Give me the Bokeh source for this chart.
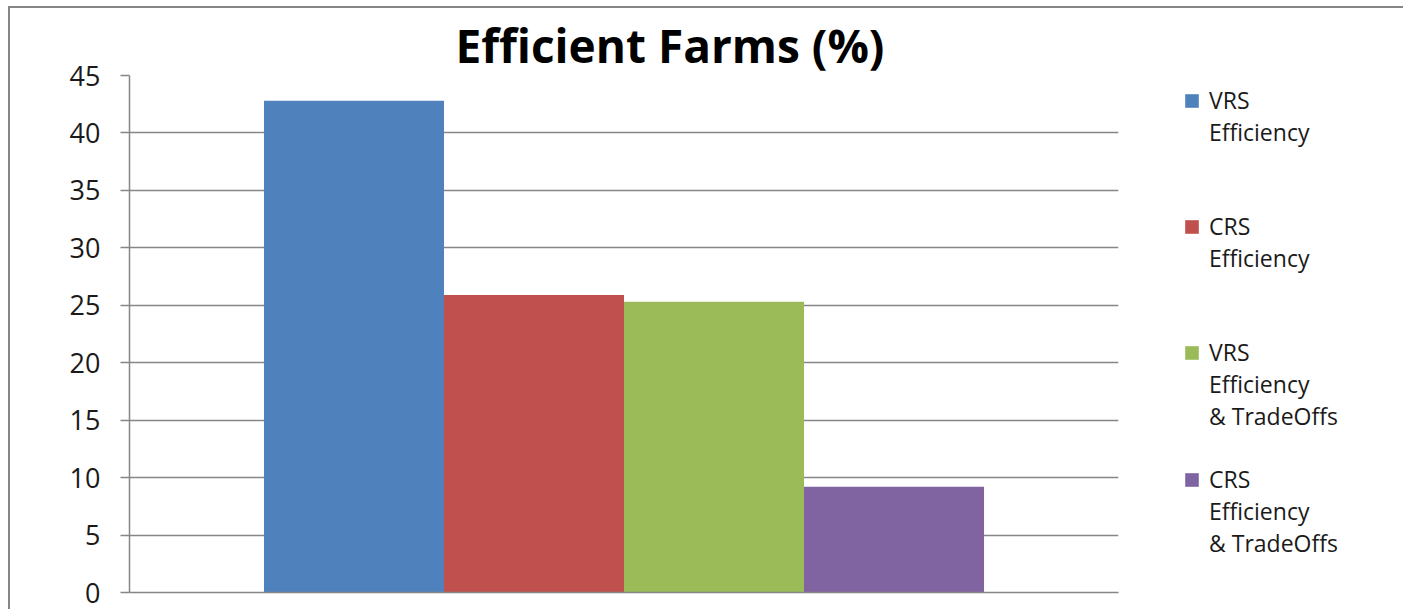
from bokeh.plotting import figure
from bokeh.models import Range1d, Legend, LegendItem, FixedTicker
from bokeh.embed import file_html
from bokeh.resources import INLINE

# ---- data ----
series = ["VRS\nEfficiency", "CRS\nEfficiency",
          "VRS\nEfficiency\n& TradeOffs", "CRS\nEfficiency\n& TradeOffs"]
values = [42.8, 25.9, 25.3, 9.2]
colors = ["#4F81BD", "#C0504D", "#9BBB59", "#8064A2"]
y_ticks = [0, 5, 10, 15, 20, 25, 30, 35, 40, 45]

GRAY = "#868686"
FONT = "Open Sans"
LINES_PER_ENTRY = 4
LINE_H = 31.3

p = figure(frame_width=989, frame_height=517, output_backend="svg", toolbar_location=None,
           x_range=Range1d(-1.247, 4.247), y_range=Range1d(0, 45),
           min_border_left=119, min_border_right=275, min_border_top=67,
           min_border_bottom=17, margin=(6, 0, 0, 8),
           title="Efficient Farms (%)")
p.styles = {"border-left": f"2px solid {GRAY}", "border-top": f"2px solid {GRAY}"}
p.outline_line_color = None

p.title.text_font = FONT
p.title.text_font_style = "bold"
p.title.text_font_size = "46px"
p.title.text_color = "#000000"
p.title.align = "left"
p.title.offset = 326
p.title.standoff = 0

renderers = []
for i, (s, v, c) in enumerate(zip(series, values, colors)):
    r = p.vbar(x=[i], top=[v], width=1.0, bottom=0, fill_color=c, line_color=None)
    renderers.append((s, r))

# invisible renderer used for the continuation lines of the legend labels
blank = p.vbar(x=[], top=[], width=1.0, bottom=0, fill_alpha=0, line_alpha=0)

p.xaxis.ticker = FixedTicker(ticks=[])
p.xaxis.major_tick_line_color = None
p.xaxis.minor_tick_line_color = None
p.xaxis.axis_line_color = GRAY
p.xaxis.axis_line_width = 1.5
p.xgrid.grid_line_color = None

p.yaxis.ticker = FixedTicker(ticks=y_ticks)
p.yaxis.axis_line_color = GRAY
p.yaxis.axis_line_width = 1.5
p.yaxis.major_tick_line_color = GRAY
p.yaxis.major_tick_line_width = 1.5
p.yaxis.major_tick_out = 9
p.yaxis.major_tick_in = 0
p.yaxis.minor_tick_line_color = None
p.yaxis.major_label_standoff = 20
p.yaxis.major_label_text_font = FONT
p.yaxis.major_label_text_font_size = "27px"
p.yaxis.major_label_text_color = "#1a1a1a"
p.ygrid.grid_line_color = GRAY
p.ygrid.grid_line_width = 1.5

items = []
for k, (s, r) in enumerate(renderers):
    lines = s.split("\n")
    items.append(LegendItem(label=lines[0], renderers=[r]))
    for ln in lines[1:]:
        items.append(LegendItem(label=ln, renderers=[blank]))
    if k < len(renderers) - 1:
        for _ in range(LINES_PER_ENTRY - len(lines)):
            items.append(LegendItem(label=" ", renderers=[blank]))

n_items = len(items)
legend = Legend(items=items, location=(65, int(517 - 14 - round(LINE_H * n_items))),
                padding=0, margin=0, spacing=0,
                glyph_width=17, glyph_height=17, label_height=31,
                label_standoff=9, border_line_color=None, background_fill_alpha=0,
                label_text_font=FONT, label_text_font_size="23px",
                label_text_color="#1a1a1a")
p.add_layout(legend, "right")

open("out.html", "w").write(file_html(p, INLINE))
